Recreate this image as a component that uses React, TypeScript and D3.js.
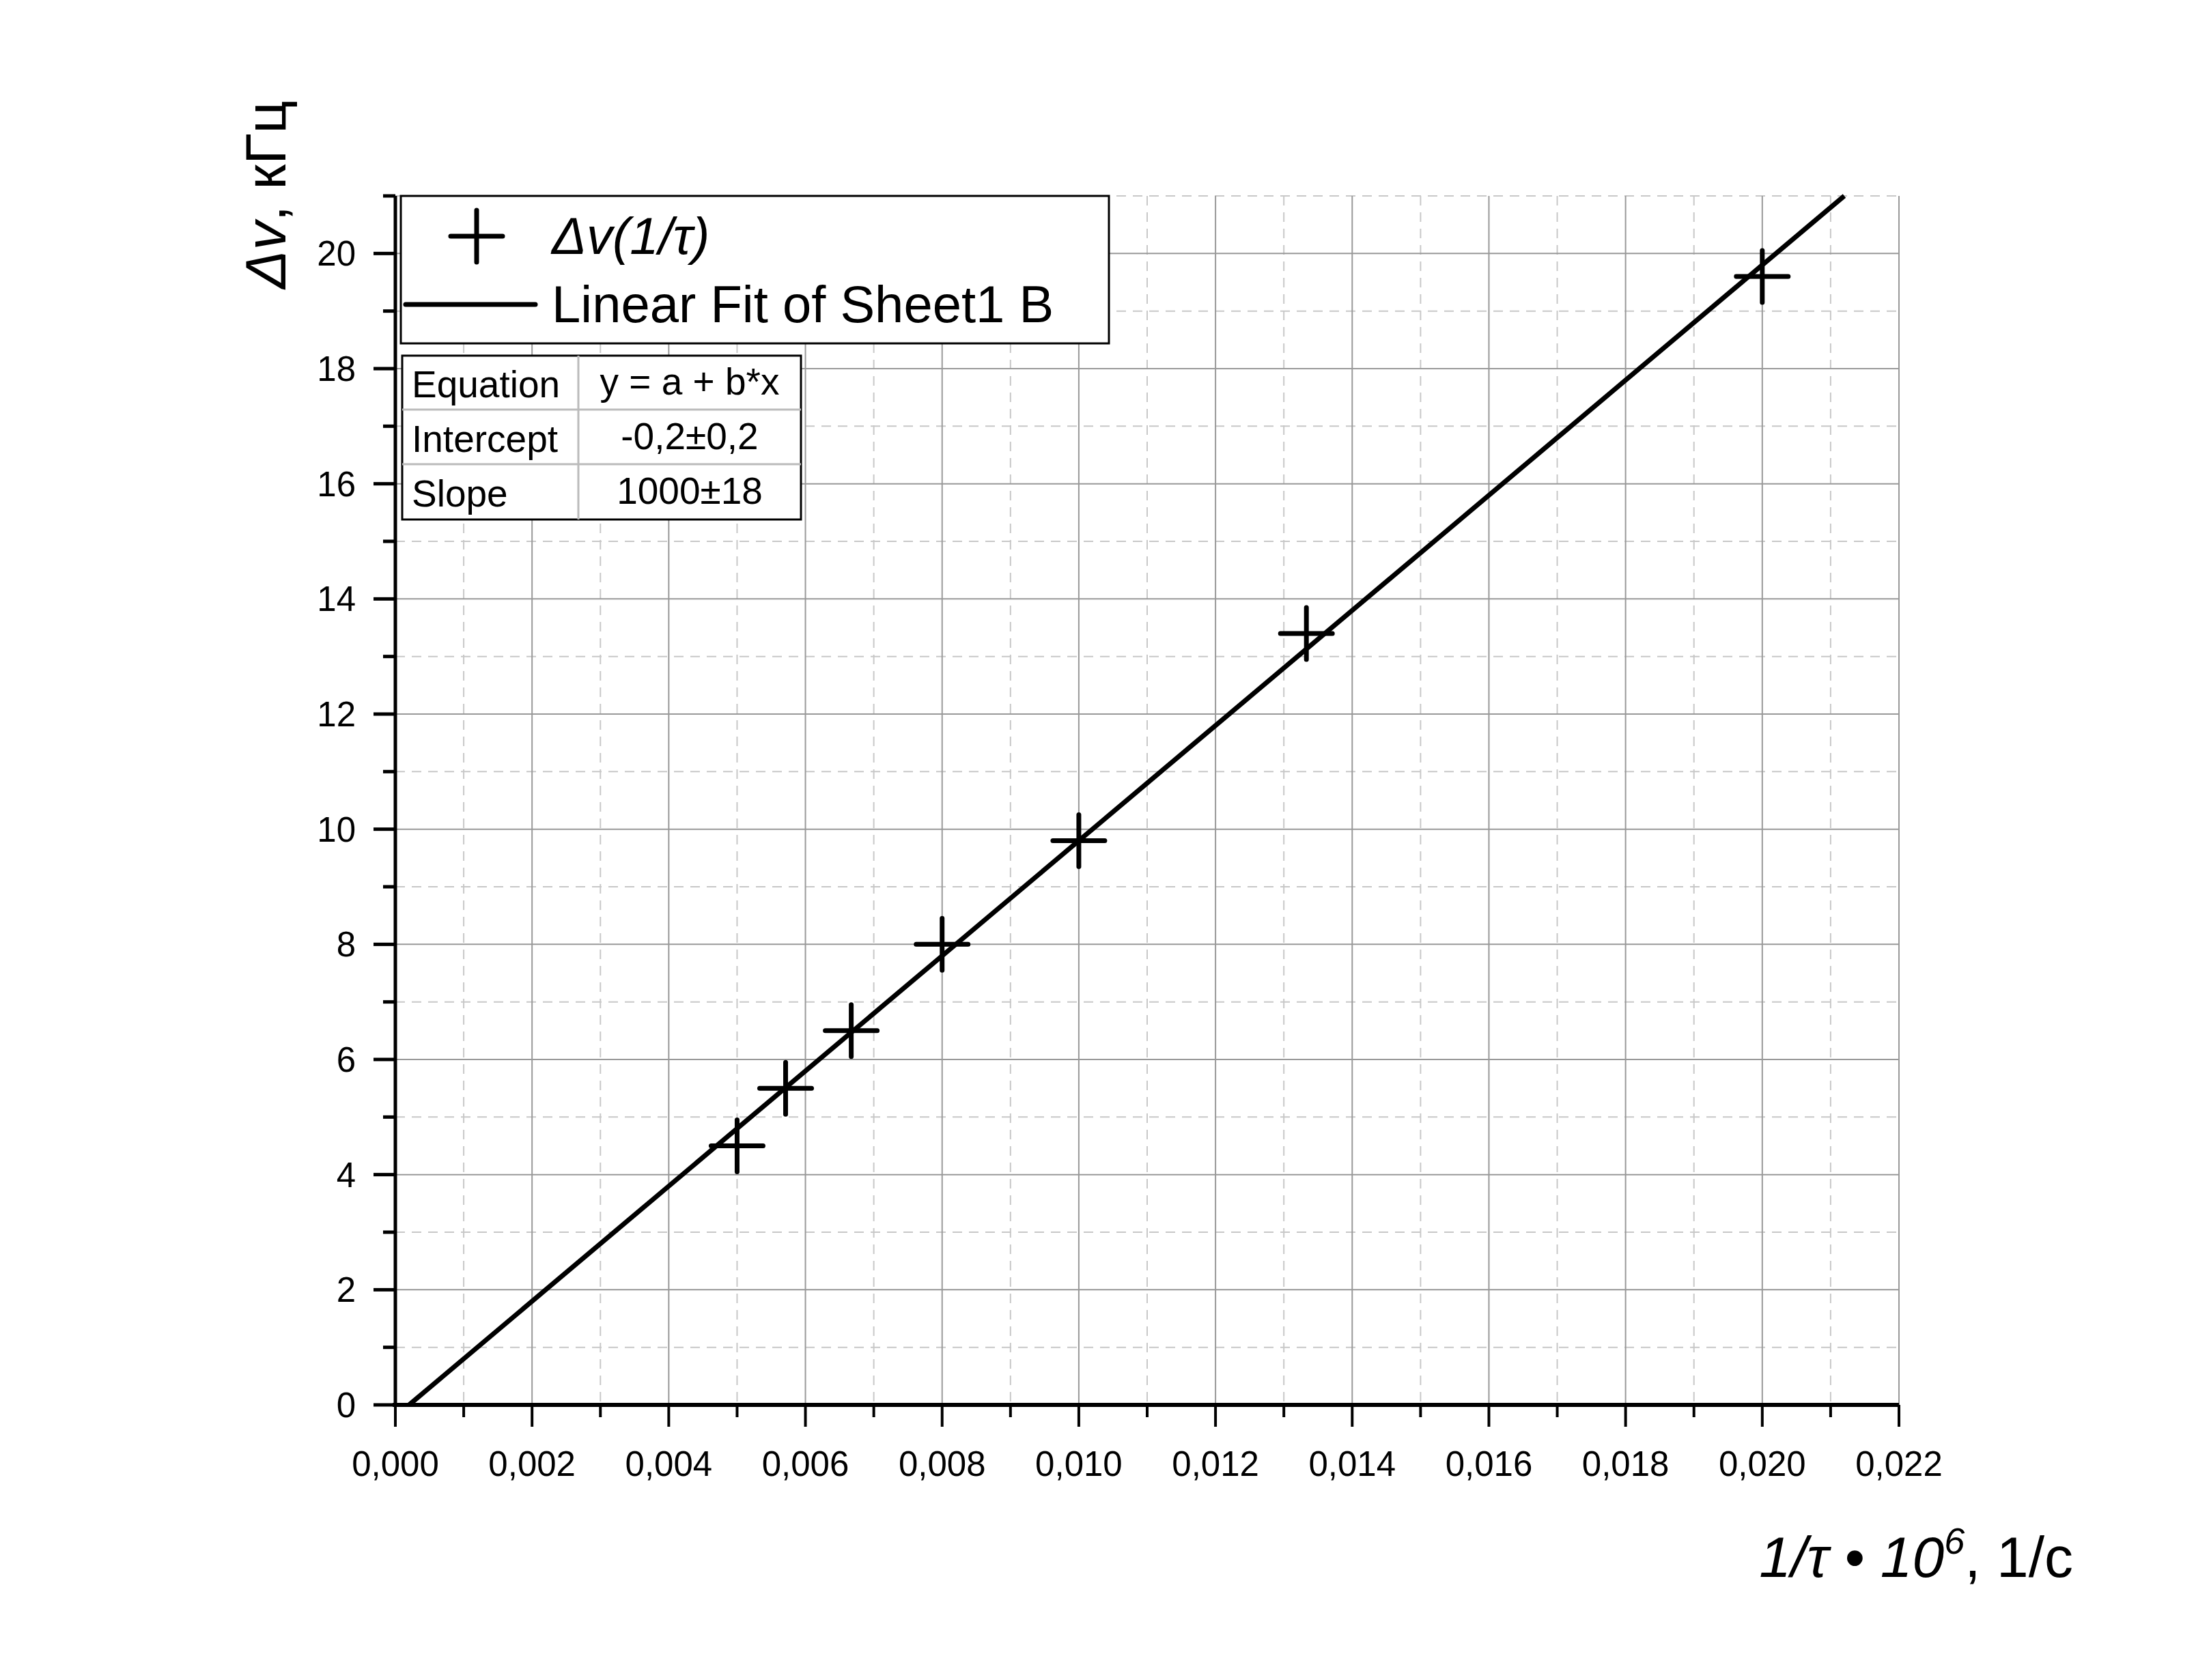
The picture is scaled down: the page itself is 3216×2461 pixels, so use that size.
import React from "react";
import * as d3 from "d3";

const invTau = [0.005, 0.00571, 0.00667, 0.008, 0.01, 0.01333, 0.02];
const deltaNu = [4.5, 5.5, 6.5, 8.0, 9.8, 13.4, 19.6];
const fitA = -0.2;
const fitB = 1000;
const xTicks = d3.range(0, 0.0221, 0.002);
const yTicks = d3.range(0, 21, 2);
const tableRows = [
  ["Equation", "y = a + b*x"],
  ["Intercept", "-0,2±0,2"],
  ["Slope", "1000±18"],
];

const W = 3216;
const H = 2461;
const m = { left: 579, right: 2781, top: 287, bottom: 2058 };
const font = "'Liberation Sans', Arial, sans-serif";

export default function App() {
  const x = d3.scaleLinear().domain([0, 0.022]).range([m.left, m.right]);
  const y = d3.scaleLinear().domain([0, 21]).range([m.bottom, m.top]);
  const fmt = (v: number) => v.toFixed(3).replace(".", ",");

  const xMinor = d3.range(0.001, 0.0221, 0.002);
  const yMinor = d3.range(1, 21.5, 2);
  const x0 = (0 - fitA) / fitB;
  const x1 = (21 - fitA) / fitB;

  return (
    <svg
      width={W}
      height={H}
      style={{ position: "absolute", left: 0, top: 0, display: "block", background: "#fff" }}
      fontFamily={font}
    >
      {/* grid */}
      {xMinor.map((t) => (
        <line key={"xm" + t} x1={x(t)} x2={x(t)} y1={m.top} y2={m.bottom} stroke="#c8c8c8" strokeWidth={2} strokeDasharray="14 10" />
      ))}
      {yMinor.map((t) => (
        <line key={"ym" + t} x1={m.left} x2={m.right} y1={y(t)} y2={y(t)} stroke="#c8c8c8" strokeWidth={2} strokeDasharray="14 10" />
      ))}
      {xTicks.slice(1).map((t) => (
        <line key={"xg" + t} x1={x(t)} x2={x(t)} y1={m.top} y2={m.bottom} stroke="#999" strokeWidth={2} />
      ))}
      {yTicks.slice(1).map((t) => (
        <line key={"yg" + t} x1={m.left} x2={m.right} y1={y(t)} y2={y(t)} stroke="#999" strokeWidth={2} />
      ))}

      {/* axes */}
      <line x1={m.left} x2={m.left} y1={m.top} y2={m.bottom} stroke="#000" strokeWidth={5} />
      <line x1={m.left - 4} x2={m.right} y1={m.bottom} y2={m.bottom} stroke="#000" strokeWidth={6} />
      {xTicks.map((t) => (
        <g key={"xt" + t}>
          <line x1={x(t)} x2={x(t)} y1={m.bottom} y2={m.bottom + 32} stroke="#000" strokeWidth={4} />
          <text x={x(t)} y={m.bottom + 104} fontSize={51} textAnchor="middle">{fmt(t)}</text>
        </g>
      ))}
      {xMinor.map((t) => (
        <line key={"xmt" + t} x1={x(t)} x2={x(t)} y1={m.bottom} y2={m.bottom + 18} stroke="#000" strokeWidth={4} />
      ))}
      {yTicks.map((t) => (
        <g key={"yt" + t}>
          <line x1={m.left} x2={m.left - 32} y1={y(t)} y2={y(t)} stroke="#000" strokeWidth={5} />
          <text x={m.left - 58} y={y(t) + 18} fontSize={51} textAnchor="end">{t}</text>
        </g>
      ))}
      {yMinor.map((t) => (
        <line key={"ymt" + t} x1={m.left} x2={m.left - 18} y1={y(t)} y2={y(t)} stroke="#000" strokeWidth={5} />
      ))}

      {/* fit line */}
      <line x1={x(x0)} y1={y(0)} x2={x(x1)} y2={y(21)} stroke="#000" strokeWidth={7} />

      {/* points */}
      {invTau.map((v, i) => (
        <g key={"p" + i} stroke="#000" strokeWidth={7} strokeLinecap="round">
          <line x1={x(v) - 38} x2={x(v) + 38} y1={y(deltaNu[i])} y2={y(deltaNu[i])} />
          <line x1={x(v)} x2={x(v)} y1={y(deltaNu[i]) - 38} y2={y(deltaNu[i]) + 38} />
        </g>
      ))}

      {/* legend */}
      <rect x={587} y={287} width={1037} height={216} fill="#fff" stroke="#000" strokeWidth={3} />
      <g stroke="#000" strokeWidth={7} strokeLinecap="round">
        <line x1={660} x2={736} y1={346} y2={346} />
        <line x1={698} x2={698} y1={308} y2={384} />
        <line x1={594} x2={784} y1={446} y2={446} />
      </g>
      <text x={808} y={372} fontSize={76} fontStyle="italic">Δv(1/τ)</text>
      <text x={808} y={472} fontSize={76}>Linear Fit of Sheet1 B</text>

      {/* fit table */}
      <rect x={589} y={521} width={584} height={240} fill="#fff" stroke="#000" strokeWidth={3} />
      <line x1={847} x2={847} y1={521} y2={761} stroke="#bbb" strokeWidth={3} />
      {[600, 680].map((yy) => (
        <line key={yy} x1={589} x2={1173} y1={yy} y2={yy} stroke="#bbb" strokeWidth={3} />
      ))}
      {tableRows.map((r, i) => (
        <g key={r[0]} fontSize={55}>
          <text x={603} y={582 + i * 80}>{r[0]}</text>
          <text x={1010} y={578 + i * 80} textAnchor="middle">{r[1]}</text>
        </g>
      ))}

      {/* axis titles */}
      <text transform="translate(418,285) rotate(-90)" fontSize={84} textAnchor="middle">
        <tspan fontStyle="italic">Δv</tspan>, кГц
      </text>
      <text x={3036} y={2310} fontSize={84} textAnchor="end">
        <tspan fontStyle="italic">1/τ • 10</tspan>
        <tspan fontStyle="italic" fontSize={54} dy={-34}>6</tspan>
        <tspan dy={34}>, 1/с</tspan>
      </text>
    </svg>
  );
}
